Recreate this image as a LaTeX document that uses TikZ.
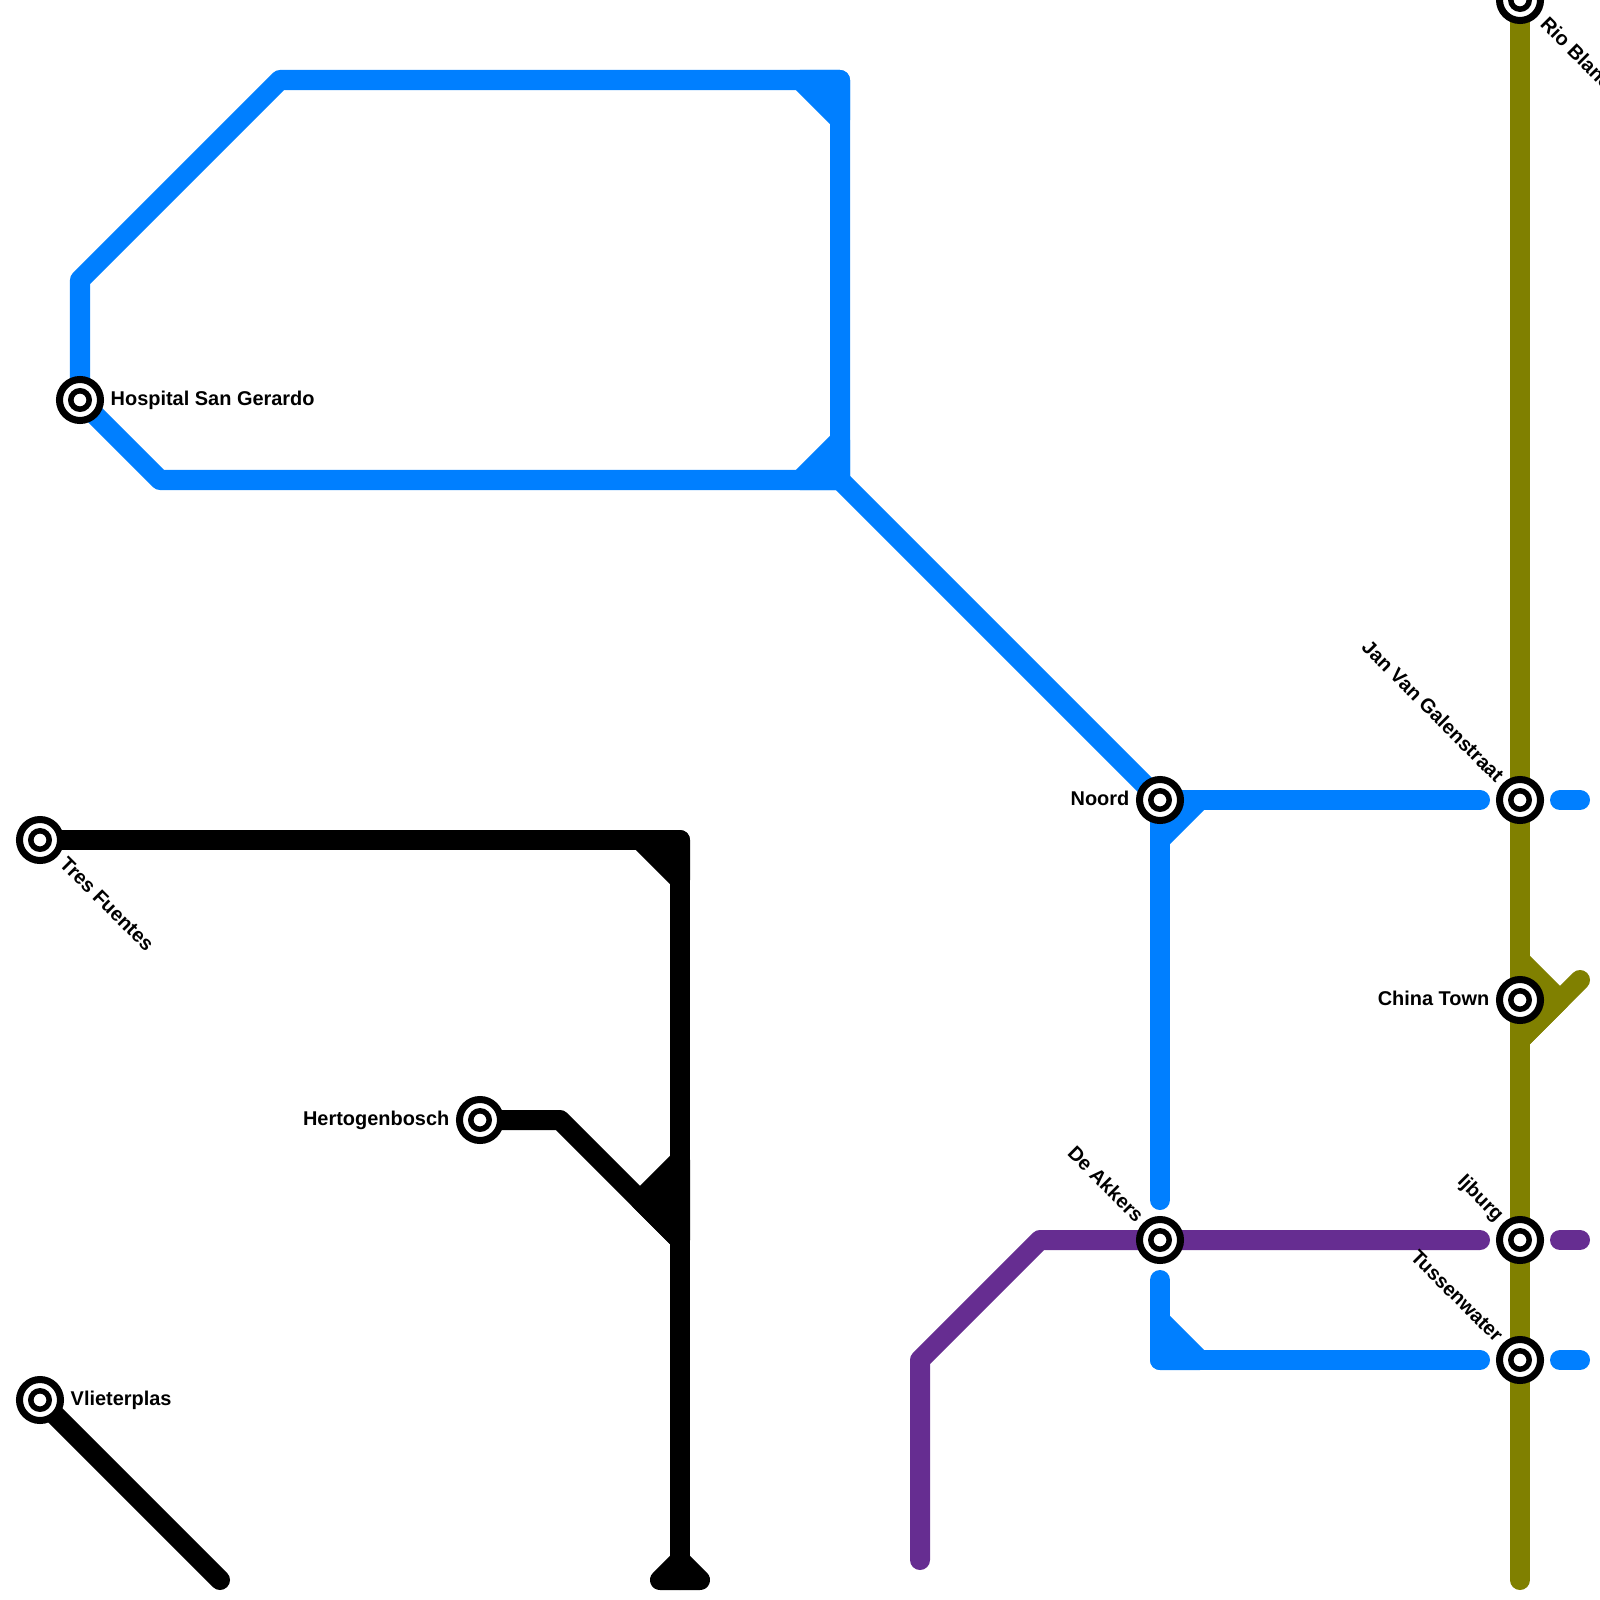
\documentclass[tikz,border=0pt]{standalone}
\usepackage{fontspec}
\setmainfont{Liberation Sans}
\usetikzlibrary{backgrounds}
\definecolor{metroblue}{RGB}{0,127,255}
\definecolor{metroolive}{RGB}{128,128,0}
\definecolor{metropurple}{RGB}{102,45,145}
\tikzset{
  metroline/.style={line width=2mm,line cap=round,line join=round},
  blueline/.style={metroline,draw=metroblue},
  blackline/.style={metroline,draw=black},
  oliveline/.style={metroline,draw=metroolive},
  purpleline/.style={metroline,draw=metropurple},
  station/.style={circle,draw=black,fill=white,line width=0.7mm,inner sep=0pt,minimum size=4.1mm,
    path picture={\draw[black,line width=0.55mm] (path picture bounding box.center) circle (0.92mm);}},
  stationlabel/.style={inner sep=0pt,font=\fontsize{5.67}{7}\selectfont\bfseries}
}
\begin{document}
\begin{tikzpicture}[x=0.01cm,y=-0.01cm]
  \useasboundingbox (0,0) rectangle (1600,1600);
  % stations
  \node[station] (rioblanco) at (1520,0) {};
  \node[station] (galenstraat) at (1520,800) {};
  \node[station] (chinatown) at (1520,1000) {};
  \node[station] (ijburg) at (1520,1240) {};
  \node[station] (tussenwater) at (1520,1360) {};
  \node[station] (noord) at (1160,800) {};
  \node[station] (akkers) at (1160,1240) {};
  \node[station] (hospital) at (80,400) {};
  \node[station] (hertogenbosch) at (480,1120) {};
  \node[station] (fuentes) at (40,840) {};
  \node[station] (vlieterplas) at (40,1400) {};
  % labels
  \node[stationlabel,anchor=west] (hospitaltext) at (110,400) {Hospital San Gerardo};
  \node[stationlabel,anchor=west] (vlieterplastext) at (70,1400) {Vlieterplas};
  \node[stationlabel,anchor=east] (hertogenboschtext) at (450,1120) {Hertogenbosch};
  \node[stationlabel,anchor=east] (noordtext) at (1130,798) {Noord};
  \node[stationlabel,anchor=east] (chinatowntext) at (1490,998) {China Town};
  \node[stationlabel,anchor=west,rotate=-45] (fuentestext) at (63,860) {Tres Fuentes};
  \node[stationlabel,anchor=west,rotate=-45] (rioblancotext) at (1544,20) {Rio Blanco};
  \node[stationlabel,anchor=east,rotate=-45] (galenstraattext) at (1501,779) {Jan Van Galenstraat};
  \node[stationlabel,anchor=east,rotate=-45] (akkerstext) at (1141,1219) {De Akkers};
  \node[stationlabel,anchor=east,rotate=-45] (ijburgtext) at (1500,1219) {Ijburg};
  \node[stationlabel,anchor=east,rotate=-45] (tussenwatertext) at (1500,1339) {Tussenwater};
  % junctions
  \coordinate (bluetop) at (840,80);
  \coordinate (bluefork) at (840,480);
  \coordinate (bluefoot) at (1160,1360);
  \coordinate (blackbend) at (680,840);
  \coordinate (blackmerge) at (680,1240);
  \coordinate (blackend) at (680,1580);
  \coordinate (olivefork) at (1560,1000);
  \begin{scope}[on background layer]
    % olive line
    \draw[oliveline] (rioblanco.center) -- (1520,1580);
    \draw[oliveline,fill=metroolive] (1520,960) -- (olivefork) -- (1520,1040) -- cycle;
    \draw[oliveline] (1520,1040) -- (1580,980);
    % blue line
    \draw[blueline] (hospital.center) -- (80,280) -- (280,80) -- (bluetop) -- (bluefork) -- (160,480) -- cycle;
    \draw[blueline,fill=metroblue] (800,80) -- (bluetop) -- (840,120) -- cycle;
    \draw[blueline,fill=metroblue] (800,480) -- (840,440) -- (bluefork) -- cycle;
    \draw[blueline] (bluefork) -- (noord.center);
    \draw[blueline] (noord.center) -- (1480,800);
    \draw[blueline] (1560,800) -- (1580,800);
    \draw[blueline] (noord.center) -- (1160,1200);
    \draw[blueline,fill=metroblue] (noord.center) -- (1200,800) -- (1160,840) -- cycle;
    \draw[blueline] (1160,1280) -- (bluefoot) -- (1480,1360);
    \draw[blueline,fill=metroblue] (1160,1320) -- (1200,1360) -- (bluefoot) -- cycle;
    \draw[blueline] (1560,1360) -- (1580,1360);
    % purple line
    \draw[purpleline] (920,1560) -- (920,1360) -- (1040,1240) -- (akkers.center) -- (1480,1240);
    \draw[purpleline] (1560,1240) -- (1580,1240);
    % black lines
    \draw[blackline] (fuentes.center) -- (blackbend) -- (blackend);
    \draw[blackline,fill=black] (640,840) -- (blackbend) -- (680,880) -- cycle;
    \draw[blackline] (hertogenbosch.center) -- (560,1120) -- (blackmerge);
    \draw[blackline,fill=black] (640,1200) -- (680,1160) -- (blackmerge) -- cycle;
    \draw[blackline,fill=black] (660,1580) -- (680,1560) -- (700,1580) -- cycle;
    \draw[blackline] (vlieterplas.center) -- (220,1580);
  \end{scope}
\end{tikzpicture}
\end{document}
